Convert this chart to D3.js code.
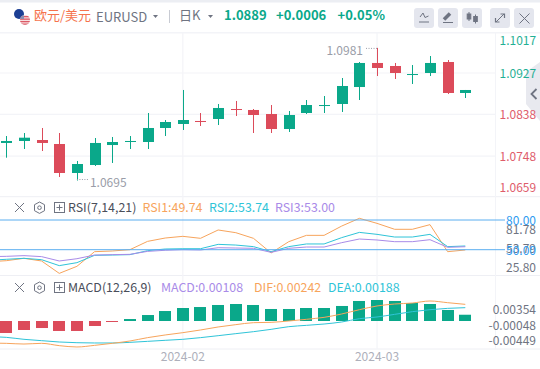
<!DOCTYPE html>
<html>
<head>
<meta charset="utf-8">
<script src="https://cdn.jsdelivr.net/npm/d3@7"></script>
<style>
html,body{margin:0;padding:0;background:#fff;overflow:hidden}
text{font-family:"Noto Sans CJK SC","Noto Sans",sans-serif}
</style>
</head>
<body>
<svg id="chart" width="540" height="369"></svg>
<script>
// candles: open, high, low, close
const opens = [1.07762,1.07805,1.07826,1.07740,1.07115,1.07287,1.07718,1.07783,1.07783,1.08085,1.08171,1.08236,1.08279,1.08494,1.08473,1.08386,1.08063,1.08408,1.08559,1.08602,1.08968,1.09486,1.09421,1.09227,1.09270,1.09507,1.08839];
const highs = [1.07912,1.07977,1.08085,1.07977,1.07374,1.07869,1.07891,1.07912,1.08408,1.08257,1.08904,1.08408,1.08602,1.08667,1.08494,1.08580,1.08451,1.08688,1.08774,1.09162,1.09507,1.09811,1.09486,1.09442,1.09636,1.09550,1.08904];
const lows = [1.07445,1.07632,1.07589,1.07029,1.06953,1.07266,1.07331,1.07632,1.07632,1.07912,1.08042,1.08128,1.08149,1.08343,1.07977,1.07977,1.07999,1.08386,1.08408,1.08430,1.08688,1.09205,1.09141,1.09033,1.09205,1.08817,1.08731];
const closes = [1.07805,1.07876,1.07762,1.07115,1.07309,1.07762,1.07783,1.07805,1.08085,1.08214,1.08257,1.08214,1.08516,1.08473,1.08365,1.08063,1.08365,1.08580,1.08580,1.08990,1.09486,1.09378,1.09270,1.09248,1.09486,1.08839,1.08904];

const priceTicks = [1.1017,1.0927,1.0838,1.0748,1.0659];

// indicator lines start one bar left of the first candle, off the pane
const rsi1 = [37.8,38.9,41.3,38.6,26.1,33.2,48.0,48.7,50.0,58.4,61.8,63.5,61.5,69.9,67.2,61.5,46.7,58.1,64.5,64.5,73.9,81.7,76.6,70.6,70.6,75.3,48.0,49.74];
const rsi2 = [39.3,40.3,41.3,39.9,33.9,36.9,44.3,44.6,45.0,49.0,50.7,51.0,51.0,55.4,54.7,53.1,48.0,53.1,55.8,55.8,62.2,67.5,65.5,62.8,62.8,65.5,53.1,53.74];
const rsi3 = [43.0,43.3,44.0,43.0,38.6,40.9,44.6,45.0,45.3,48.3,49.4,50.0,49.7,52.0,51.7,51.4,47.3,51.4,52.7,52.7,57.1,60.8,59.8,58.1,58.1,60.1,52.4,53.00];
const rsiLevels = [80,50];
const rsiTicks = [81.78,53.79,25.80];

const macdHist = [-0.00207,-0.00155,-0.00121,-0.00172,-0.00172,-0.00086,-0.00017,0.00034,0.00103,0.00172,0.00224,0.00241,0.00276,0.00293,0.00276,0.00207,0.00207,0.00224,0.00224,0.00259,0.00345,0.00362,0.00345,0.00310,0.00293,0.00190,0.00108];
const dif = [-0.00380,-0.00385,-0.00397,-0.00385,-0.00425,-0.00448,-0.00420,-0.00385,-0.00345,-0.00287,-0.00241,-0.00201,-0.00155,-0.00103,-0.00063,-0.00029,-0.00023,0,0.00029,0.00063,0.00121,0.00195,0.00259,0.00293,0.00310,0.00345,0.00316,0.00287];
const dea = [-0.00270,-0.00282,-0.00316,-0.00339,-0.00362,-0.00374,-0.00379,-0.00379,-0.00368,-0.00351,-0.00333,-0.00316,-0.00287,-0.00253,-0.00218,-0.00184,-0.00144,-0.00098,-0.00075,-0.00052,-0.00017,0.00040,0.00069,0.00115,0.00161,0.00195,0.00218,0.00230];
const macdTicks = [0.00354,-0.00048,-0.00449];

const dateLabels = ["2024-02","2024-03"];
const dateIndex = [10,21];

const GREEN = "#0aa88a", RED = "#dc4b5a", ORANGE = "#f7a45c", CYAN = "#2fc4d8", PURPLE = "#a98be8", BLUE = "#5aaef0";
const GRID = "#f3f4f8", GREY = "#6f7482", LIGHT = "#9a9da8";

const svg = d3.select("#chart");
const x = d3.scaleLinear().domain([0,26]).range([6.3,465.3]);
const y = d3.scaleLinear().domain([1.0927,1.0838]).range([73,114.3]);
const yRsi = d3.scaleLinear().domain([80,50]).range([220,249.7]);
const yRsiAxis = d3.scaleLinear().domain([81.78,25.80]).range([229,267.5]);
const yMacd = d3.scaleLinear().domain([0,0.001]).range([321,315.2]);
const yMacdAxis = d3.scaleLinear().domain([0.00354,-0.00449]).range([309.5,340.5]);

// top band and separators
svg.append("rect").attr("width",540).attr("height",2.5).attr("fill","#eceef3");
svg.append("rect").attr("y",32).attr("width",540).attr("height",1.5).attr("fill",GRID);
[196.7,275.5,349].forEach(d => {
	svg.append("line").attr("x1",0).attr("x2",540).attr("y1",d).attr("y2",d).attr("stroke","#eeeff4");
});
svg.append("line").attr("x1",495.5).attr("x2",495.5).attr("y1",33).attr("y2",349).attr("stroke",GRID);

// grid
svg.append("g").selectAll("line").data(priceTicks.slice(1,4)).join("line")
	.attr("x1",0).attr("x2",495).attr("y1",d => y(d)).attr("y2",d => y(d)).attr("stroke",GRID).attr("stroke-width",1.2);
svg.append("g").selectAll("line").data(dateIndex).join("line")
	.attr("x1",d => x(d)).attr("x2",d => x(d)).attr("y1",33).attr("y2",349).attr("stroke",GRID).attr("stroke-width",1.2);

// side tab
svg.append("path").attr("d","M540 62L526 72V104L540 121Z").attr("fill","#e8e9ef");
svg.append("path").attr("d","M536.5 89l-5 5 5 5").attr("fill","none").attr("stroke",GREY).attr("stroke-width",1.8);

// candles
const idx = d3.range(opens.length);
const candle = svg.append("g").selectAll("g").data(idx).join("g")
	.attr("fill",i => closes[i] >= opens[i] ? GREEN : RED)
	.attr("stroke",i => closes[i] >= opens[i] ? GREEN : RED);
candle.append("line")
	.attr("x1",i => Math.round(x(i))+0.5).attr("x2",i => Math.round(x(i))+0.5)
	.attr("y1",i => y(highs[i])).attr("y2",i => y(lows[i])).attr("stroke-width",1);
candle.append("rect")
	.attr("x",i => Math.round(x(i))-5).attr("width",11)
	.attr("y",i => y(Math.max(opens[i],closes[i])))
	.attr("height",i => Math.max(1,Math.abs(y(opens[i])-y(closes[i]))))
	.attr("stroke","none");

// high / low marks
const hi = d3.maxIndex(highs);
const lo = d3.minIndex(lows);
svg.append("line").attr("x1",x(hi)-11).attr("x2",x(hi)).attr("y1",y(highs[hi])+0.5).attr("y2",y(highs[hi])+0.5)
	.attr("stroke",LIGHT).attr("stroke-dasharray","1 1.5");
svg.append("text").attr("x",x(hi)-14).attr("y",y(highs[hi])+7).attr("text-anchor","end")
	.attr("font-size",12).attr("fill",LIGHT).text(highs[hi].toFixed(4));
svg.append("line").attr("x1",x(lo)).attr("x2",x(lo)+11).attr("y1",y(lows[lo])-1).attr("y2",y(lows[lo])-1)
	.attr("stroke",LIGHT).attr("stroke-dasharray","1 1.5");
svg.append("text").attr("x",x(lo)+13).attr("y",y(lows[lo])+6).attr("font-size",12).attr("fill",LIGHT).text(lows[lo].toFixed(4));

// price axis, labels kept inside the pane like the original
const priceLabelY = d => Math.min(Math.max(y(d),40),187);
svg.append("g").selectAll("text").data(priceTicks).join("text")
	.attr("x",499.5).attr("y",d => priceLabelY(d)+4.5).attr("font-size",12)
	.attr("fill",d => d > 1.0889 ? GREEN : RED).attr("opacity",0.9).text(d => d.toFixed(4));

// RSI
const rsiLine = d3.line().x((d,i) => x(i-1)).y(d => yRsi(d));
[[rsi1,ORANGE],[rsi2,CYAN],[rsi3,PURPLE]].forEach(s => {
	svg.append("path").attr("d",rsiLine(s[0])).attr("fill","none").attr("stroke",s[1]).attr("stroke-width",1);
});
svg.append("g").selectAll("line").data(rsiLevels).join("line")
	.attr("x1",0).attr("x2",505).attr("y1",d => yRsi(d)).attr("y2",d => yRsi(d))
	.attr("stroke",BLUE).attr("stroke-width",1);
svg.append("g").selectAll("text").data(rsiTicks).join("text")
	.attr("x",536).attr("text-anchor","end").attr("y",d => yRsiAxis(d)+4.5).attr("font-size",12)
	.attr("fill",GREY).text(d => d.toFixed(2));
svg.append("g").selectAll("text").data(rsiLevels).join("text")
	.attr("x",536).attr("text-anchor","end").attr("y",d => yRsi(d)+5).attr("font-size",12)
	.attr("fill","#2f9bf0").text(d => d.toFixed(2));

// MACD
svg.append("g").selectAll("rect").data(macdHist).join("rect")
	.attr("x",(d,i) => Math.round(x(i))-6).attr("width",12)
	.attr("y",d => Math.min(yMacd(d),yMacd(0)))
	.attr("height",d => Math.abs(yMacd(d)-yMacd(0)))
	.attr("fill",d => d >= 0 ? GREEN : RED);
const macdLine = d3.line().x((d,i) => x(i-1)).y(d => yMacd(d)).curve(d3.curveMonotoneX);
[[dea,CYAN],[dif,ORANGE]].forEach(s => {
	svg.append("path").attr("d",macdLine(s[0])).attr("fill","none").attr("stroke",s[1]).attr("stroke-width",1);
});
svg.append("g").selectAll("text").data(macdTicks).join("text")
	.attr("x",536).attr("text-anchor","end").attr("y",d => yMacdAxis(d)+4.5).attr("font-size",12)
	.attr("fill",GREY).text(d => d.toFixed(5));

// date axis
svg.append("g").selectAll("text").data(dateIndex).join("text")
	.attr("x",d => x(d)).attr("y",361).attr("text-anchor","middle").attr("font-size",12)
	.attr("fill","#aeb0bb").text((d,i) => dateLabels[i]);

// flags
svg.append("circle").attr("cx",19).attr("cy",14).attr("r",5).attr("fill","#1c3f94");
svg.append("clipPath").attr("id","us").append("circle").attr("cx",25).attr("cy",20).attr("r",5);
const flag = svg.append("g").attr("clip-path","url(#us)");
flag.append("rect").attr("x",20).attr("y",15).attr("width",10).attr("height",10).attr("fill","#f6dfe0");
[16,18.5,21,23.5].forEach(d => {
	flag.append("rect").attr("x",20).attr("y",d).attr("width",10).attr("height",1.3).attr("fill","#dc5a66");
});
flag.append("rect").attr("x",20).attr("y",15).attr("width",4).attr("height",4).attr("fill","#8a8fb0");

// header
svg.append("text").attr("x",34).attr("y",20).attr("font-size",13).attr("fill","#f5734d").text("欧元/美元");
svg.append("text").attr("x",96).attr("y",21.5).attr("font-size",13).attr("fill",GREY).text("EURUSD");
svg.append("path").attr("d","M153 15h5l-2.5 3z").attr("fill",GREY);
svg.append("line").attr("x1",169.5).attr("x2",169.5).attr("y1",10).attr("y2",23).attr("stroke","#c8cbd3");
svg.append("text").attr("x",179).attr("y",20).attr("font-size",13).attr("fill",GREY).text("日K");
svg.append("path").attr("d","M208 15h5l-2.5 3z").attr("fill",GREY);
svg.append("text").attr("x",224).attr("y",20).attr("font-size",13).attr("font-weight",700).attr("fill",GREEN).text("1.0889");
svg.append("text").attr("x",276).attr("y",20).attr("font-size",13).attr("font-weight",700).attr("fill",GREEN).text("+0.0006");
svg.append("text").attr("x",337.5).attr("y",20).attr("font-size",13).attr("font-weight",700).attr("fill",GREEN).text("+0.05%");

// header buttons
const btnX = [414,438,462,490,514];
svg.append("g").selectAll("rect").data(btnX).join("rect")
	.attr("x",d => d).attr("y",8).attr("width",20).attr("height",20).attr("rx",3).attr("fill","#e4e6ee");
const icons = svg.append("g").attr("fill","none").attr("stroke",GREY);
icons.append("path").attr("d","M420 17l3-4 2 4.5 3.5-1.5M419 22h10");
icons.append("path").attr("d","M444 19.5l6-6").attr("stroke-width",3.5);
icons.append("path").attr("d","M443 22.5h10");
icons.append("path").attr("d","M469 12v9M475.5 14.5v9");
icons.append("rect").attr("x",467.2).attr("y",14).attr("width",3.6).attr("height",5).attr("fill",GREY);
icons.append("rect").attr("x",473.7).attr("y",16.5).attr("width",3.6).attr("height",5).attr("fill",GREY);
icons.append("path").attr("d","M496 22l8-8");
icons.append("path").attr("d","M500.5 14h4v4M495.5 18v4h4").attr("stroke-width",1.2);
icons.append("path").attr("d","M519.5 13.5l10 10M529.5 13.5l-10 10");

// pane legends
function paneHeader(top,name,items) {
	const g = svg.append("g").attr("transform","translate(0,"+top+")");
	g.append("path").attr("d","M15 1l9 9M24 1l-9 9").attr("stroke",GREY).attr("fill","none");
	g.append("path").attr("d","M39.5 0l5 2.7v6l-5 2.7l-5-2.7v-6z").attr("stroke",GREY).attr("fill","none");
	g.append("circle").attr("cx",39.5).attr("cy",5.7).attr("r",1.8).attr("stroke",GREY).attr("fill","none");
	g.append("rect").attr("x",54.5).attr("y",0.5).attr("width",10).attr("height",10).attr("stroke",GREY).attr("fill","none");
	g.append("path").attr("d","M56.5 5.5h6M59.5 2.5v6").attr("stroke",GREY).attr("fill","none");
	g.append("text").attr("x",68).attr("y",10).attr("font-size",12.4).attr("fill","#4a4e5a").text(name);
	items.forEach(t => {
		g.append("text").attr("x",t[1]).attr("y",10).attr("font-size",12.4).attr("fill",t[2]).text(t[0]);
	});
}
paneHeader(202,"RSI(7,14,21)",[["RSI1:49.74",142.5,ORANGE],["RSI2:53.74",209,CYAN],["RSI3:53.00",275,PURPLE]]);
paneHeader(282,"MACD(12,26,9)",[["MACD:0.00108",161,PURPLE],["DIF:0.00242",254,ORANGE],["DEA:0.00188",328,CYAN]]);
</script>
</body>
</html>
